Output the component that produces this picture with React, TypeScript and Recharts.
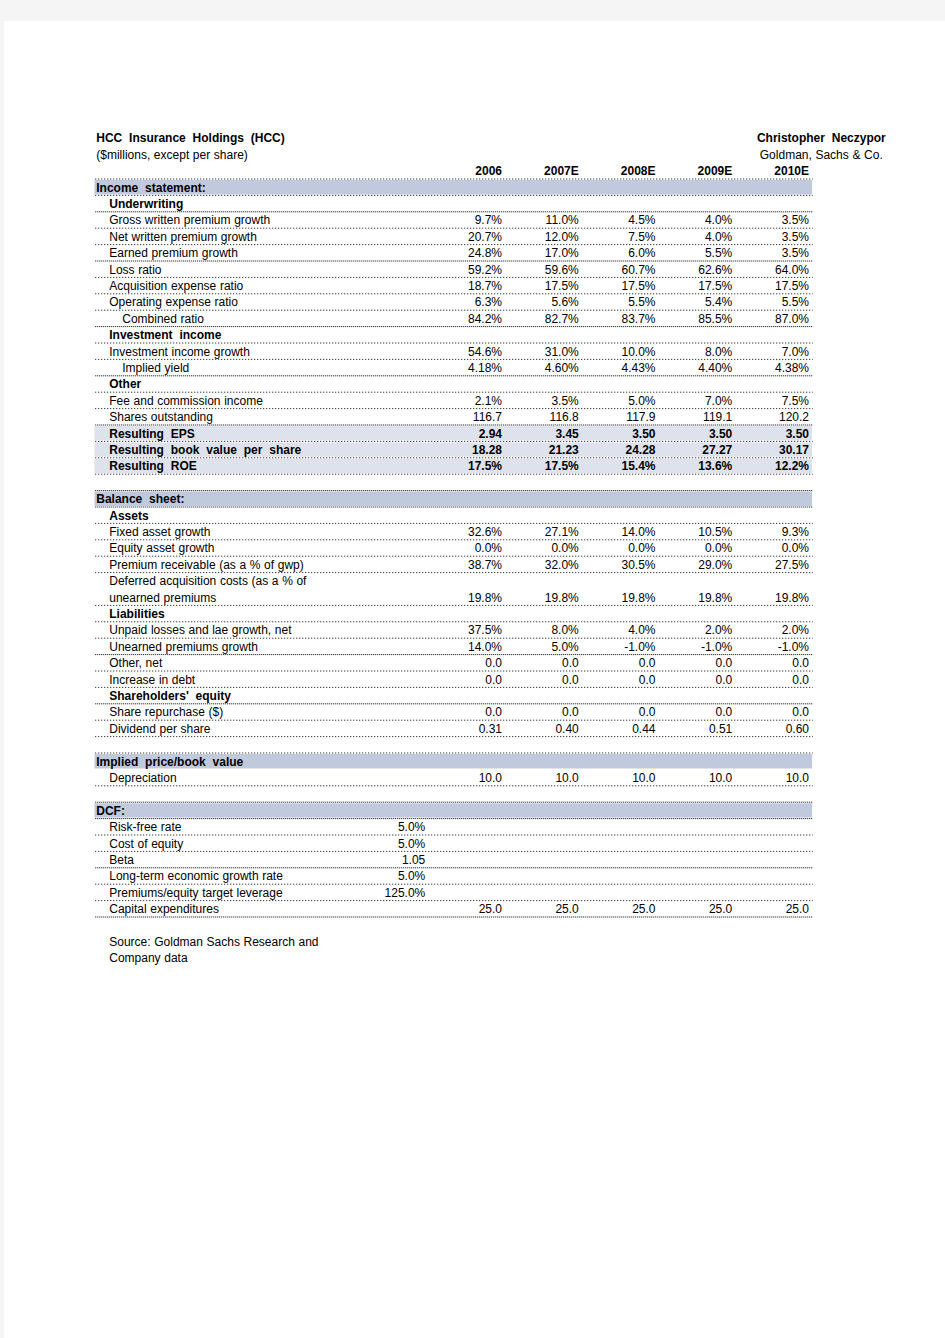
import React from 'react'
import { ScatterChart, Scatter, XAxis, YAxis, ReferenceArea, ReferenceLine } from 'recharts'

document.body.style.margin = '0'

type Fmt = 'pct1' | 'pct2' | 'num1' | 'num2'
interface Item { label: string; values: number[]; fmt: Fmt; indent?: number }

const years = ['2006', '2007E', '2008E', '2009E', '2010E']

const underwriting: Item[] = [
  { label: 'Gross written premium growth', values: [9.7, 11.0, 4.5, 4.0, 3.5], fmt: 'pct1' },
  { label: 'Net written premium growth', values: [20.7, 12.0, 7.5, 4.0, 3.5], fmt: 'pct1' },
  { label: 'Earned premium growth', values: [24.8, 17.0, 6.0, 5.5, 3.5], fmt: 'pct1' },
  { label: 'Loss ratio', values: [59.2, 59.6, 60.7, 62.6, 64.0], fmt: 'pct1' },
  { label: 'Acquisition expense ratio', values: [18.7, 17.5, 17.5, 17.5, 17.5], fmt: 'pct1' },
  { label: 'Operating expense ratio', values: [6.3, 5.6, 5.5, 5.4, 5.5], fmt: 'pct1' },
  { label: 'Combined ratio', values: [84.2, 82.7, 83.7, 85.5, 87.0], fmt: 'pct1', indent: 2 },
]

const investment: Item[] = [
  { label: 'Investment income growth', values: [54.6, 31.0, 10.0, 8.0, 7.0], fmt: 'pct1' },
  { label: 'Implied yield', values: [4.18, 4.60, 4.43, 4.40, 4.38], fmt: 'pct2', indent: 2 },
]

const otherItems: Item[] = [
  { label: 'Fee and commission income', values: [2.1, 3.5, 5.0, 7.0, 7.5], fmt: 'pct1' },
  { label: 'Shares outstanding', values: [116.7, 116.8, 117.9, 119.1, 120.2], fmt: 'num1' },
]

const results: Item[] = [
  { label: 'Resulting EPS', values: [2.94, 3.45, 3.50, 3.50, 3.50], fmt: 'num2' },
  { label: 'Resulting book value per share', values: [18.28, 21.23, 24.28, 27.27, 30.17], fmt: 'num2' },
  { label: 'Resulting ROE', values: [17.5, 17.5, 15.4, 13.6, 12.2], fmt: 'pct1' },
]

const assets: Item[] = [
  { label: 'Fixed asset growth', values: [32.6, 27.1, 14.0, 10.5, 9.3], fmt: 'pct1' },
  { label: 'Equity asset growth', values: [0.0, 0.0, 0.0, 0.0, 0.0], fmt: 'pct1' },
  { label: 'Premium receivable (as a % of gwp)', values: [38.7, 32.0, 30.5, 29.0, 27.5], fmt: 'pct1' },
]
const dacLabel = ['Deferred acquisition costs (as a % of', 'unearned premiums']
const dacValues = [19.8, 19.8, 19.8, 19.8, 19.8]

const liabilities: Item[] = [
  { label: 'Unpaid losses and lae growth, net', values: [37.5, 8.0, 4.0, 2.0, 2.0], fmt: 'pct1' },
  { label: 'Unearned premiums growth', values: [14.0, 5.0, -1.0, -1.0, -1.0], fmt: 'pct1' },
  { label: 'Other, net', values: [0.0, 0.0, 0.0, 0.0, 0.0], fmt: 'num1' },
  { label: 'Increase in debt', values: [0.0, 0.0, 0.0, 0.0, 0.0], fmt: 'num1' },
]

const equity: Item[] = [
  { label: 'Share repurchase ($)', values: [0.0, 0.0, 0.0, 0.0, 0.0], fmt: 'num1' },
  { label: 'Dividend per share', values: [0.31, 0.40, 0.44, 0.51, 0.60], fmt: 'num2' },
]

const impliedPB: Item[] = [
  { label: 'Depreciation', values: [10.0, 10.0, 10.0, 10.0, 10.0], fmt: 'num1' },
]

const dcfInputs: { label: string; value: number; fmt: Fmt }[] = [
  { label: 'Risk-free rate', value: 5.0, fmt: 'pct1' },
  { label: 'Cost of equity', value: 5.0, fmt: 'pct1' },
  { label: 'Beta', value: 1.05, fmt: 'num2' },
  { label: 'Long-term economic growth rate', value: 5.0, fmt: 'pct1' },
  { label: 'Premiums/equity target leverage', value: 125.0, fmt: 'pct1' },
]
const capex: Item = { label: 'Capital expenditures', values: [25.0, 25.0, 25.0, 25.0, 25.0], fmt: 'num1' }

const sourceNote = ['Source: Goldman Sachs Research and', 'Company data']

// rows whose bottom rule looks heavier in the scan
const heavyRules = [4, 7, 11, 14, 17, 21, 22, 31, 34, 40, 41, 44, 47]

const fmt = (v: number, f: Fmt) =>
  f === 'pct1' ? `${v.toFixed(1)}%` : f === 'pct2' ? `${v.toFixed(2)}%` : f === 'num1' ? v.toFixed(1) : v.toFixed(2)

type Kind = 'title' | 'sub' | 'header' | 'section' | 'group' | 'item' | 'result' | 'blank' | 'note'
interface Row { kind: Kind; label?: string; right?: string; values?: string[]; col0?: string; indent?: number; rule?: boolean }

const rows: Row[] = []
const push = (r: Row) => rows.push(r)
const items = (list: Item[], kind: Kind = 'item') =>
  list.forEach(it => push({ kind, label: it.label, values: it.values.map(v => fmt(v, it.fmt)), indent: it.indent ?? 1, rule: true }))

push({ kind: 'title', label: 'HCC Insurance Holdings (HCC)', right: 'Christopher Neczypor' })
push({ kind: 'sub', label: '($millions, except per share)', right: 'Goldman, Sachs & Co.' })
push({ kind: 'header', values: years, rule: true })
push({ kind: 'section', label: 'Income statement:', rule: true })
push({ kind: 'group', label: 'Underwriting', indent: 1, rule: true })
items(underwriting)
push({ kind: 'group', label: 'Investment income', indent: 1, rule: true })
items(investment)
push({ kind: 'group', label: 'Other', indent: 1, rule: true })
items(otherItems)
items(results, 'result')
push({ kind: 'blank', rule: true })
push({ kind: 'section', label: 'Balance sheet:', rule: true })
push({ kind: 'group', label: 'Assets', indent: 1, rule: true })
items(assets)
push({ kind: 'item', label: dacLabel[0], indent: 1 })
push({ kind: 'item', label: dacLabel[1], values: dacValues.map(v => fmt(v, 'pct1')), indent: 1, rule: true })
push({ kind: 'group', label: 'Liabilities', indent: 1, rule: true })
items(liabilities)
push({ kind: 'group', label: "Shareholders' equity", indent: 1, rule: true })
items(equity)
push({ kind: 'blank', rule: true })
push({ kind: 'section', label: 'Implied price/book value' })
items(impliedPB)
push({ kind: 'blank', rule: true })
push({ kind: 'section', label: 'DCF:', rule: true })
dcfInputs.forEach(d => push({ kind: 'item', label: d.label, col0: fmt(d.value, d.fmt), indent: 1, rule: true }))
items([capex])
push({ kind: 'blank' })
sourceNote.forEach(s => push({ kind: 'note', label: s, indent: 1 }))

const LEFT = -4.3
const RIGHT = 5.05
const EDGE = 6
const ROW_H = 16.4
const indentPx = [1, 14, 27]

interface Pt { x: number; y: number; text: string; anchor: 'start' | 'end'; bold: boolean; dx: number }
const points: Pt[] = []
rows.forEach((r, y) => {
  const bold = ['title', 'header', 'section', 'group', 'result'].includes(r.kind)
  if (r.label) points.push({ x: LEFT, y, text: r.label, anchor: 'start', bold, dx: indentPx[r.indent ?? 0] })
  if (r.right) points.push({ x: EDGE, y, text: r.right, anchor: 'end', bold: r.kind === 'title', dx: r.kind === 'title' ? 0 : -3 })
  r.values?.forEach((t, i) => points.push({ x: i + 1, y, text: t, anchor: 'end', bold, dx: 0 }))
  if (r.col0) points.push({ x: 0, y, text: r.col0, anchor: 'end', bold, dx: 0 })
})

const Cell = (p: any) => {
  const d: Pt = p.payload
  return (
    <text x={p.cx + d.dx} y={p.cy} dy="0.36em" textAnchor={d.anchor} fontSize={12}
      fontWeight={d.bold ? 700 : 400} fontFamily="'Liberation Sans', Arial, sans-serif"
      style={{ wordSpacing: d.bold ? 3.5 : 0.3 }} fill="#000">{d.text}</text>
  )
}

const W = 945
const H = 1338
const unit = 76.75
const plotLeft = 425.25 + LEFT * unit
const plotTop = 138 - 0.5 * ROW_H

export default function App() {
  const nRows = rows.length
  const margin = {
    top: plotTop,
    left: plotLeft,
    right: W - plotLeft - (EDGE - LEFT) * unit,
    bottom: H - plotTop - nRows * ROW_H,
  }
  return (
    <div style={{ position: 'relative', width: W, height: H, background: '#f5f5f5', overflow: 'hidden' }}>
      <div style={{ position: 'absolute', left: 4, top: 21, right: 0, bottom: 0, background: '#fff' }} />
      <div style={{ position: 'absolute', left: 0, top: 0 }}>
        <ScatterChart width={W} height={H} margin={margin}>
          <XAxis type="number" dataKey="x" domain={[LEFT, EDGE]} hide />
          <YAxis type="number" dataKey="y" domain={[-0.5, nRows - 0.5]} reversed hide />
          {rows.map((r, y) => (r.kind === 'section' || r.kind === 'result') && (
            <ReferenceArea key={`a${y}`} x1={LEFT - 0.01} x2={RIGHT - 0.01} y1={y - 0.44} y2={y + 0.44}
              fill={r.kind === 'section' ? '#c1c9dc' : '#dde2ed'} fillOpacity={1} stroke="none" ifOverflow="visible" />
          ))}
          {rows.map((r, y) => r.rule && (
            <ReferenceLine key={`l${y}`} segment={[{ x: LEFT, y: y + 0.5 }, { x: RIGHT, y: y + 0.5 }]}
              stroke="#000" strokeWidth={1} strokeDasharray={heavyRules.includes(y) ? '1 1' : '1 2'} ifOverflow="visible" />
          ))}
          <Scatter data={points} shape={Cell} isAnimationActive={false} />
        </ScatterChart>
      </div>
    </div>
  )
}
